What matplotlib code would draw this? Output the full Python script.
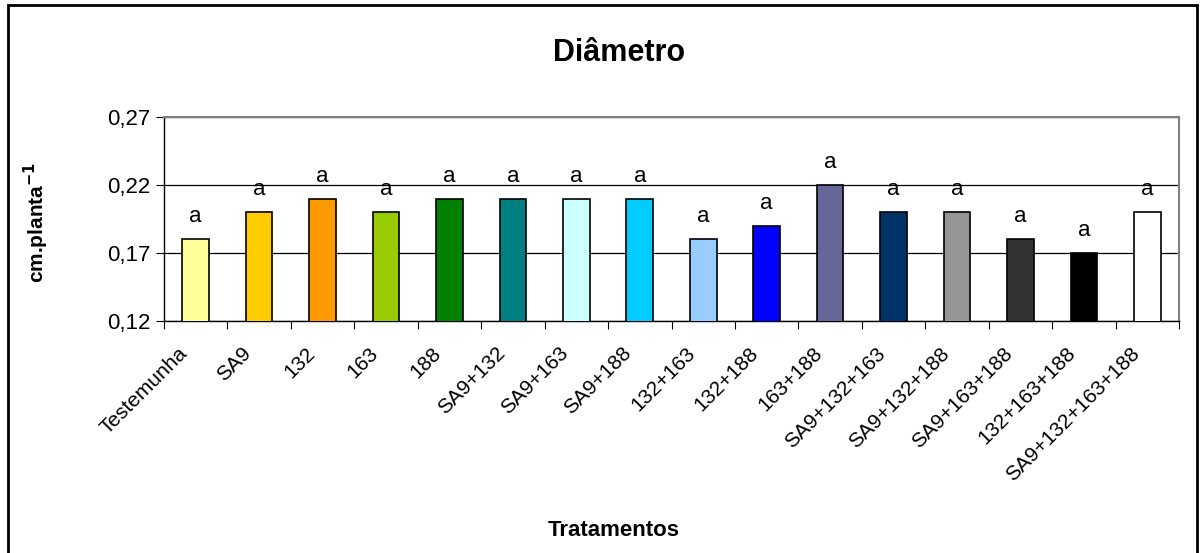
import matplotlib.pyplot as plt
import matplotlib.transforms as mtransforms
from matplotlib.patches import Rectangle

plt.rcParams['font.family'] = ['Liberation Sans', 'DejaVu Sans']

# data
tratamentos = ["Testemunha", "SA9", "132", "163", "188", "SA9+132", "SA9+163",
               "SA9+188", "132+163", "132+188", "163+188", "SA9+132+163",
               "SA9+132+188", "SA9+163+188", "132+163+188", "SA9+132+163+188"]
diametro = [0.18, 0.20, 0.21, 0.20, 0.21, 0.21, 0.21, 0.21,
            0.18, 0.19, 0.22, 0.20, 0.20, 0.18, 0.17, 0.20]
letras = ["a"] * 16
cores = ["#FFFF99", "#FFCC00", "#FF9900", "#99CC00", "#008000", "#008080",
         "#CCFFFF", "#00CCFF", "#99CCFF", "#0000FF", "#666699", "#003366",
         "#969696", "#333333", "#000000", "#FFFFFF"]
yticks = [0.12, 0.17, 0.22, 0.27]

fig = plt.figure(figsize=(12.01, 5.53), dpi=100)
ax = fig.add_axes([164 / 1201, 1 - 321 / 553, (1179 - 164) / 1201, (321 - 117) / 553])

x = list(range(len(tratamentos)))
ax.bar(x, diametro, width=0.42, color=cores, edgecolor="black", linewidth=1.2,
       zorder=3)
for xi, v, l in zip(x, diametro, letras):
    ax.text(xi, v + 0.0165, l, ha="center", va="center", fontsize=16, zorder=4)

ax.set_xlim(-0.5, len(tratamentos) - 0.5)
ax.set_ylim(0.12, 0.27)
ax.set_yticks(yticks)
ax.set_yticklabels([f"{t:.2f}".replace(".", ",") for t in yticks], fontsize=16)
ax.yaxis.grid(True, color="black", linewidth=0.9, zorder=0)

# ticks between categories
ax.set_xticks([i - 0.5 for i in range(len(tratamentos) + 1)])
ax.set_xticklabels([])
ax.set_xticks(x, minor=True)
ax.set_xticklabels(tratamentos, minor=True, rotation=45, ha="right",
                   va="center", rotation_mode="anchor", fontsize=15)
ax.tick_params(axis="x", which="minor", length=0, pad=24)
ax.tick_params(axis="x", which="major", length=6, direction="out")
ax.tick_params(axis="y", length=6, direction="out", pad=4)

# shift rotated labels a little to the left, like Excel does
shift = mtransforms.ScaledTranslation(-11 / 100, 4 / 100, fig.dpi_scale_trans)
for lab in ax.get_xticklabels(minor=True):
    lab.set_transform(lab.get_transform() + shift)

for s in ["top", "right"]:
    ax.spines[s].set_color("#808080")
    ax.spines[s].set_linewidth(1.5)
ax.spines["left"].set_linewidth(1.0)
ax.spines["bottom"].set_linewidth(1.0)

fig.text(619 / 1201, 1 - 53 / 553, "Diâmetro", ha="center", va="center",
         fontsize=22, fontweight="bold")
fig.text(36 / 1201, 1 - 222 / 553, "cm.planta$^{\\mathbf{-1}}$", ha="center",
         va="center", rotation=90, fontsize=15, fontweight="bold")
fig.text(614 / 1201, 1 - 531 / 553, "Tratamentos", ha="center", va="center",
         fontsize=16, fontweight="bold")

# outer chart frame
fig.patches.append(Rectangle((8 / 1201, -0.01), 1189 / 1201, 1 - 5 / 553 + 0.01,
                             transform=fig.transFigure, fill=False,
                             edgecolor="black", linewidth=2))

fig.savefig("out.png", dpi=100)
